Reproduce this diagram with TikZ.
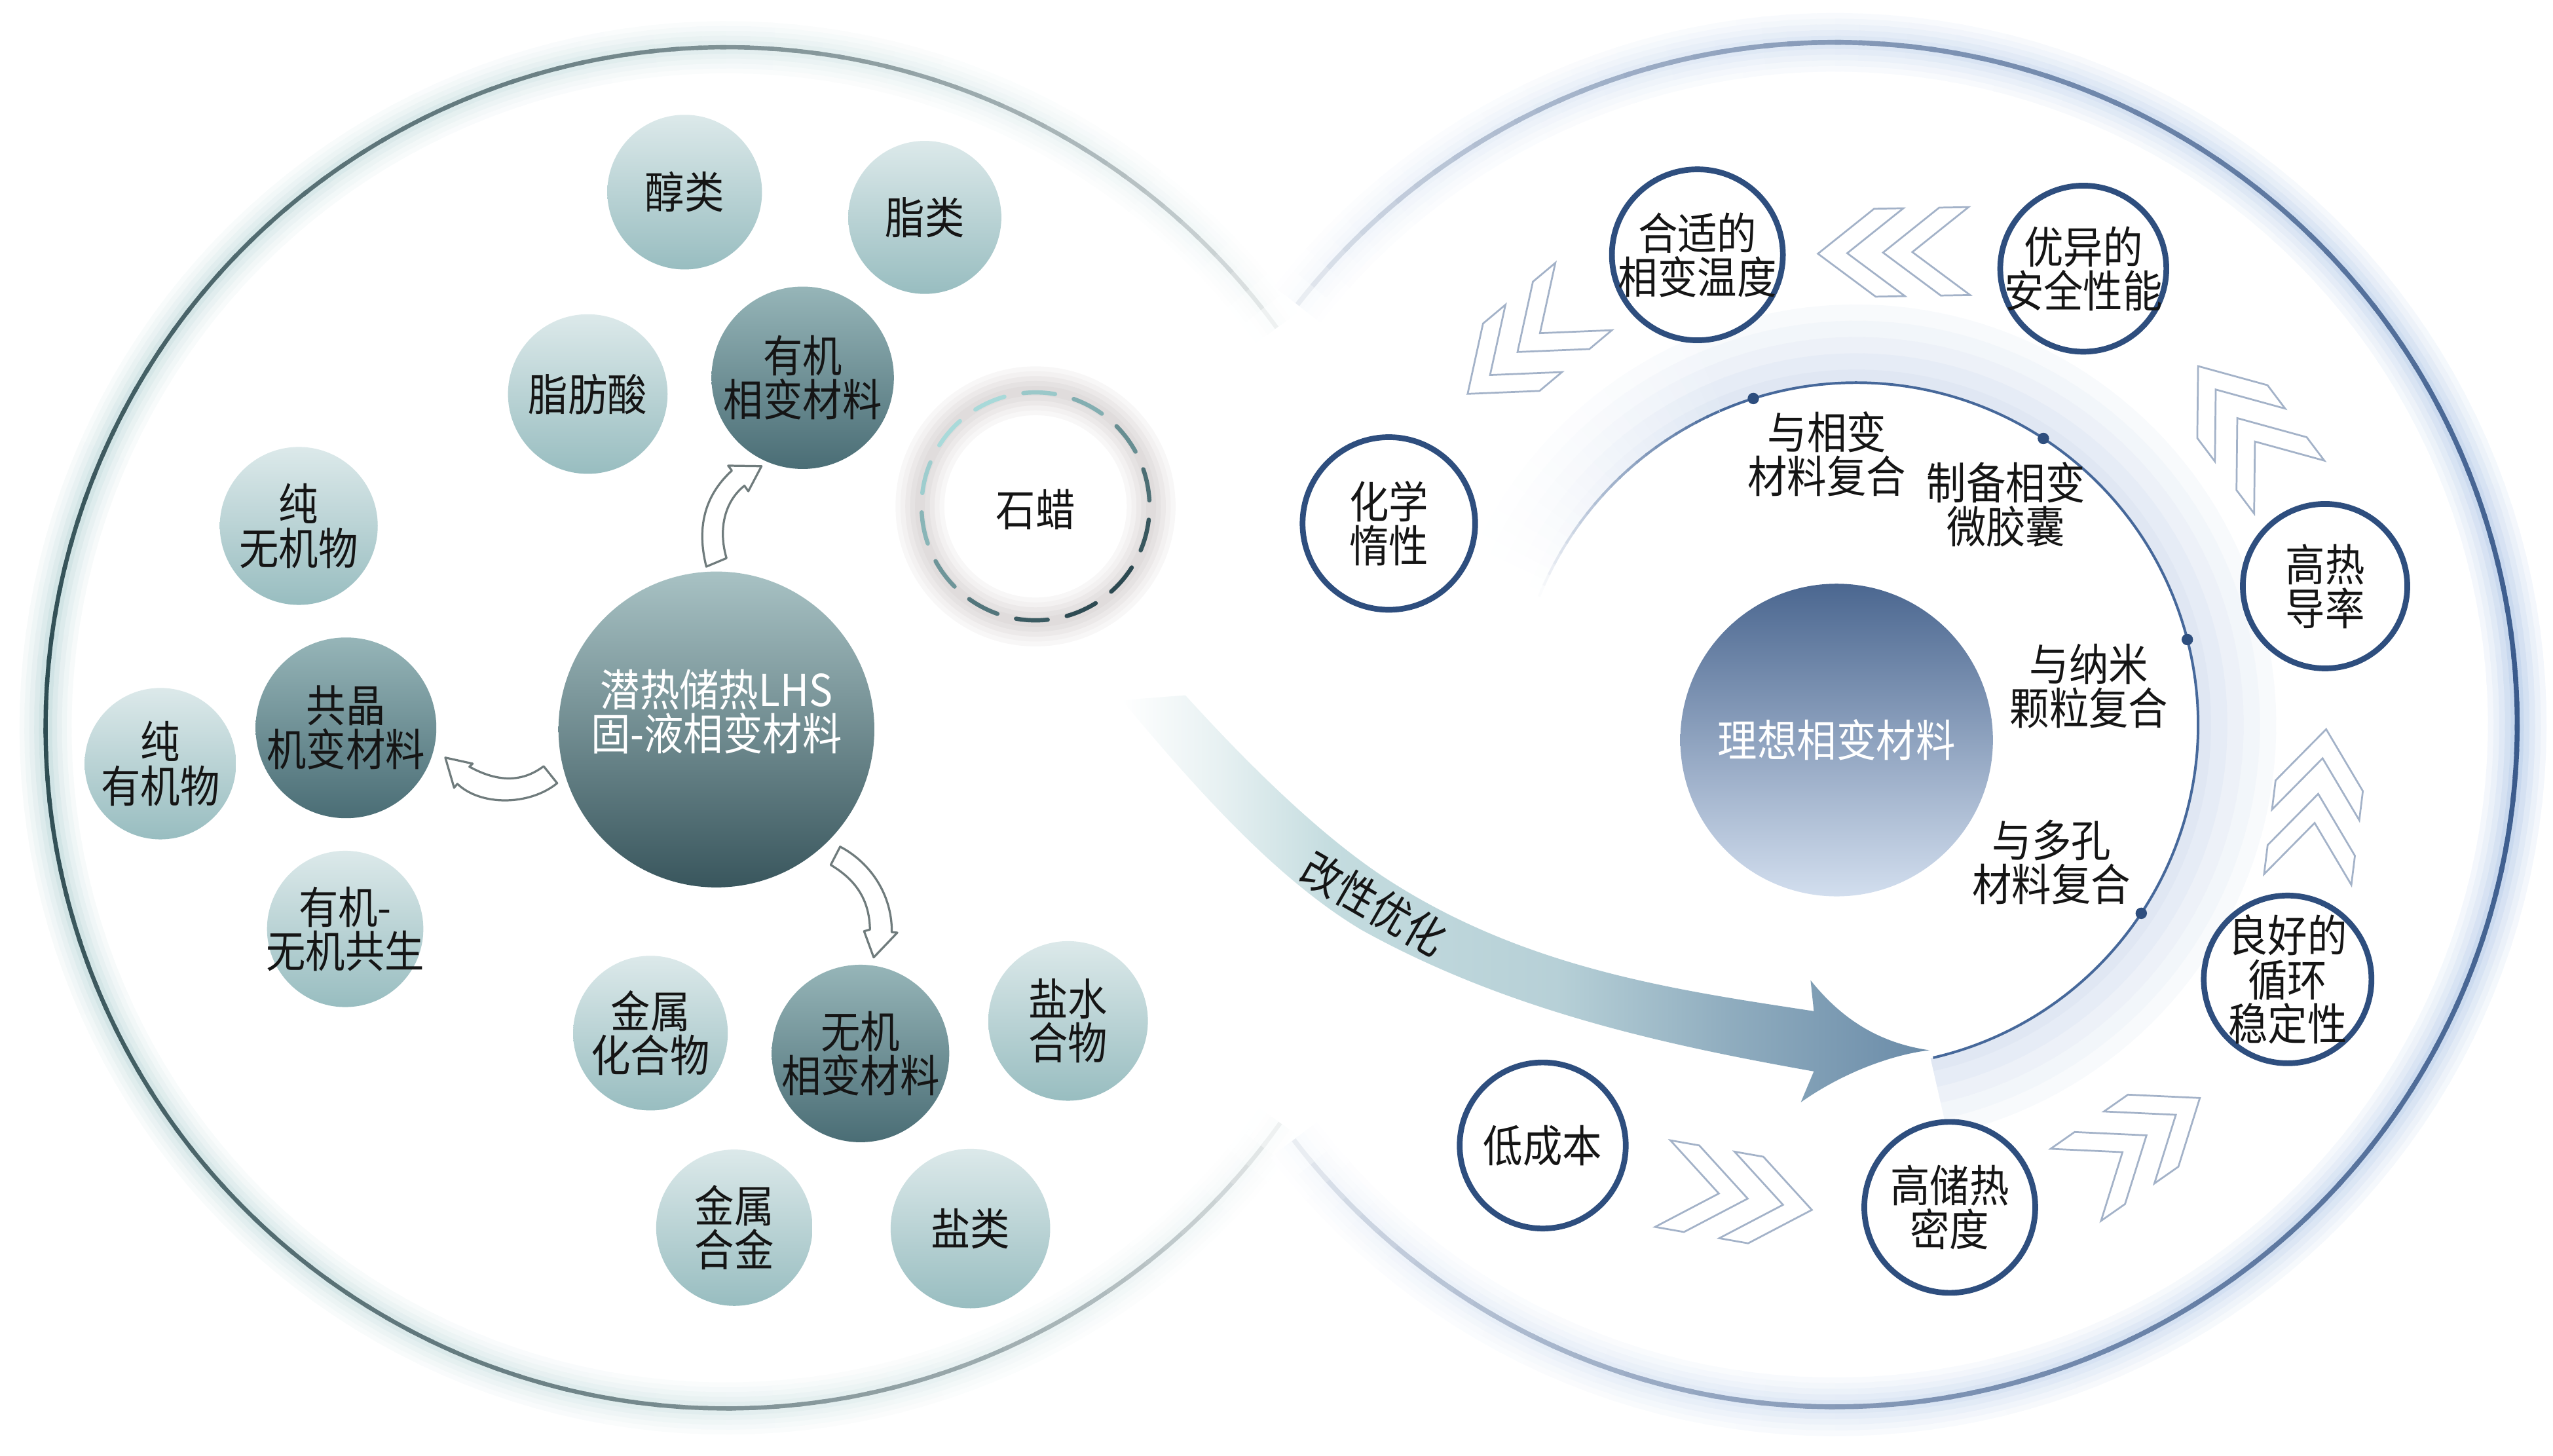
\documentclass[tikz,border=0pt]{standalone}
\usepackage{fontspec}
\newfontfamily\cjk[FakeStretch=0.9]{Noto Sans CJK SC}
\usetikzlibrary{calc}
\definecolor{lline}{HTML}{2B4A50}
\definecolor{lglow}{HTML}{B5D3D5}
\definecolor{rline}{HTML}{37588A}
\definecolor{rglow}{HTML}{B4CAE8}
\definecolor{ltop}{HTML}{DCE9EA}
\definecolor{lbot}{HTML}{98BDC0}
\definecolor{dtop}{HTML}{96B5B8}
\definecolor{dbot}{HTML}{4A6D75}
\definecolor{ctop}{HTML}{A8C2C4}
\definecolor{cbot}{HTML}{39565D}
\definecolor{itop}{HTML}{4B6790}
\definecolor{ibot}{HTML}{D2DEEE}
\definecolor{ringc}{HTML}{2E4E7E}
\definecolor{chevc}{HTML}{A3B2C8}
\definecolor{hollowc}{HTML}{6F7B7C}
\definecolor{arrA}{HTML}{C4DCDF}
\definecolor{arrB}{HTML}{6A8BA8}
\definecolor{arcc}{HTML}{46689A}
\definecolor{arcglow}{HTML}{C6D4EA}
\definecolor{slight}{HTML}{A9DADA}
\definecolor{sdark}{HTML}{2B4850}
\definecolor{sshadow}{HTML}{A89D9D}
\definecolor{txt}{HTML}{151515}
\pgfdeclarehorizontalshading{arrsh}{100bp}{color(0bp)=(white); color(25bp)=(white); color(31bp)=(arrA!40!white); color(38bp)=(arrA); color(52bp)=(arrA!85!arrB); color(63bp)=(arrA!40!arrB); color(75bp)=(arrB); color(100bp)=(arrB)}
\begin{document}
\begin{tikzpicture}[x=1pt,y=-1pt,
  every node/.style={font=\cjk\fontsize{27}{27}\selectfont, text=txt, align=center, inner sep=0pt},
  ball/.style={circle, inner sep=-30pt, minimum size=#1},
  lnode/.style={ball=#1, top color=ltop, bottom color=lbot},
  dnode/.style={ball=#1, top color=dtop, bottom color=dbot},
  cnode/.style={ball=#1, top color=ctop, bottom color=cbot},
  inode/.style={ball=#1, top color=itop, bottom color=ibot, text=white},
  rnode/.style={ball=#1, draw=ringc, line width=3.5pt, fill=white},
  dotn/.style={circle, fill=ringc, minimum size=7pt, inner sep=0pt},
  hollow/.style={draw=hollowc, line width=1.3pt, fill=white, line join=round},
  chevpair/.pic={\foreach \s in {46.5,6.5}{\draw[draw=chevc, line width=1.1pt, fill=white, line join=miter] (\s,0) -- ++(-35,-27) -- ++(-18,0) -- ++(35,27) -- ++(-35,27) -- ++(18,0) -- cycle;}}
]
\useasboundingbox (0,0) rectangle (1568,894);
\coordinate (LC) at (446,447);
\coordinate (RC) at (1127,445);
\coordinate (IC) at (1140,445);
\coordinate (SC) at (636,311);

% ---- soft glows of the two big circles
\foreach \w/\f in {32/12,26/22,20/34,14/48,8/65}{
  \foreach \a in {36,38,...,322}{
    \pgfmathtruncatemacro\p{\f*sqrt(max(0,1-abs(\a+1-180)/144))}
    \draw[line width=\w, color=lglow!\p!white] ($(LC)+(-\a:418)$) arc[start angle=-\a, end angle=-\a-2.5, radius=418];
  }
}
\foreach \w/\f in {36/16,29/28,22/42,15/58,8/75}{
  \foreach \b in {-142,-140,...,140}{
    \pgfmathtruncatemacro\p{\f*sqrt(max(0,1-abs(\b+1)/143))}
    \draw[line width=\w, color=rglow!\p!white] ($(RC)+(\b:419)$) arc[start angle=\b, end angle=\b+2.5, radius=419];
  }
}
% ---- soft glow outside the inner arc
\foreach \w/\f/\r in {48/12/234,38/22/229,28/32/224,18/44/219,8/55/214}{
  \foreach \b in {-157,-155,...,75}{
    \pgfmathtruncatemacro\p{\f*min(1,(158+\b)/45)}
    \draw[line width=\w, color=arcglow!\p!white] ($(IC)+(\b:\r)$) arc[start angle=\b, end angle=\b+2.4, radius=\r];
  }
}
% ---- outlines
\foreach \a in {36,38,...,322}{
  \pgfmathtruncatemacro\p{100*sqrt(max(0,1-abs(\a+1-180)/144))}
  \draw[line width=2.6, color=lline!\p!white] ($(LC)+(-\a:418)$) arc[start angle=-\a, end angle=-\a-2.5, radius=418];
}
\foreach \b in {-142,-140,...,140}{
  \pgfmathtruncatemacro\p{100*sqrt(max(0,1-abs(\b+1)/143))}
  \draw[line width=3, color=rline!\p!white] ($(RC)+(\b:419)$) arc[start angle=\b, end angle=\b+2.5, radius=419];
}
% ---- inner arc
\draw[line width=1.6, color=arcc] ($(IC)+(77:210)$) arc[start angle=77, end angle=-113.5, radius=210];
\foreach \b in {-158,-156,...,-115}{
  \pgfmathtruncatemacro\p{100*min(1,(159+\b)/45)}
  \draw[line width=1.6, color=arcc!\p!white] ($(IC)+(\b:210)$) arc[start angle=\b, end angle=\b+2.4, radius=210];
}
\node[dotn] (d1) at ($(IC)+(-107.5:210)$) {};
\node[dotn] (d2) at ($(IC)+(-56.8:210)$) {};
\node[dotn] (d3) at ($(IC)+(-14.4:210)$) {};
\node[dotn] (d4) at ($(IC)+(33.5:210)$) {};

% ---- paraffin dashed circle with soft shadow
\foreach \w/\f in {30/8,24/14,18/22,12/30,6/36}{
  \draw[line width=\w, color=sshadow!\f!white] (SC) circle[radius=71];
}
\foreach \i in {0,...,13}{
  \pgfmathsetmacro\ca{\i*360/14+3}
  \pgfmathtruncatemacro\dd{50+50*cos(\ca+8+50)}
  \draw[line width=2.6, line cap=round, color=sdark!\dd!slight] ($(SC)+(-\ca:70)$) arc[start angle=-\ca, end angle=-\ca-16, radius=70];
}
\node (sl) at (636,313) {石蜡};

% ---- big arrow
\shade[shading=arrsh, shading angle=0]
  (728,427) .. controls (768,471) and (812,514) .. (852,540)
  .. controls (937,595) and (1029,608) .. (1114,621)
  -- (1112,602) .. controls (1128,622) and (1150,640) .. (1185,645)
  .. controls (1160,648) and (1130,660) .. (1106,677)
  -- (1114,658) .. controls (1024,642) and (926,621) .. (836,571)
  .. controls (786,541) and (739,490) .. (689,430) -- cycle;
\node[rotate=-30] (gx) at (844,555) {改性优化};

% ---- left nodes
\node[lnode=95] (chun) at (420.5,118) {醇类};
\node[lnode=94] (zhil) at (568,133.5) {脂类};
\node[lnode=98] (zfs) at (361,242) {脂肪酸};
\node[dnode=112] (yj) at (493,232) {有机\\相变材料};
\node[lnode=97] (cwj) at (183.5,323) {纯\\无机物};
\node[dnode=111] (gj) at (212.5,447) {共晶\\机变材料};
\node[lnode=93] (cyj) at (98.5,469) {纯\\有机物};
\node[cnode=194] (lhs) at (440,448) {};
\node[text=white] (lhst) at (440,437) {潜热储热LHS\\固-液相变材料};
\node[lnode=96] (yjwj) at (212,570.5) {有机-\\无机共生};
\node[lnode=95] (jhw) at (399.5,634.5) {金属\\化合物};
\node[dnode=109] (wj) at (528.5,647) {无机\\相变材料};
\node[lnode=98] (ysh) at (656,627) {盐水\\合物};
\node[lnode=96] (jhj) at (451,754) {金属\\合金};
\node[lnode=98] (yl) at (596,754.5) {盐类};

% ---- hollow curved arrows
\draw[hollow] (433.8,348) .. controls (428,325) and (432,305) .. (449.5,289) -- (447.2,286) -- (467.7,286.3) -- (459.6,301.7) -- (457.2,298.3) .. controls (445,308) and (441,325) .. (446.2,342.8) -- cycle;
\draw[hollow] (273.5,465.3) -- (290.3,469) -- (288.3,470.9) .. controls (305,480) and (320,481) .. (333.9,470.6) -- (342.2,481) .. controls (325,495) and (295,495) .. (280.9,481.4) -- (278.9,483.8) -- cycle;
\draw[hollow] (516,520) .. controls (535,530) and (548,550) .. (547.7,572.5) -- (551.1,572.8) -- (536.6,588) -- (530.7,571.9) -- (534.3,570.9) .. controls (534,552) and (525,540) .. (510.2,531.2) -- cycle;

% ---- right side
\node[inode=192] (lx) at (1128,454.5) {理想相变材料};
\node (t1) at (1122,279) {与相变\\材料复合};
\node (t2) at (1232,310) {制备相变\\微胶囊};
\node (t3) at (1283,421.5) {与纳米\\颗粒复合};
\node (t4) at (1260,529.5) {与多孔\\材料复合};

\node[rnode=105] (hs) at (1042.5,156.5) {合适的\\相变温度};
\node[rnode=102] (yy) at (1279.5,165) {优异的\\安全性能};
\node[rnode=106] (hx) at (853,321.5) {化学\\惰性};
\node[rnode=101] (grd) at (1428,360) {高热\\导率};
\node[rnode=103] (lh) at (1405,601.5) {良好的\\循环\\稳定性};
\node[rnode=102] (dcb) at (947.5,703.5) {低成本};
\node[rnode=105] (gcr) at (1197.5,741.5) {高储热\\密度};

\pic[rotate=181] at (1163,155) {chevpair};
\pic[rotate=220] at (937,212) {chevpair};
\pic[rotate=127] at (1378,262) {chevpair};
\pic[rotate=83] at (1423,494) {chevpair};
\pic[rotate=35] at (1313,701) {chevpair};
\pic[rotate=-10] at (1067,735) {chevpair};
\end{tikzpicture}
\end{document}
